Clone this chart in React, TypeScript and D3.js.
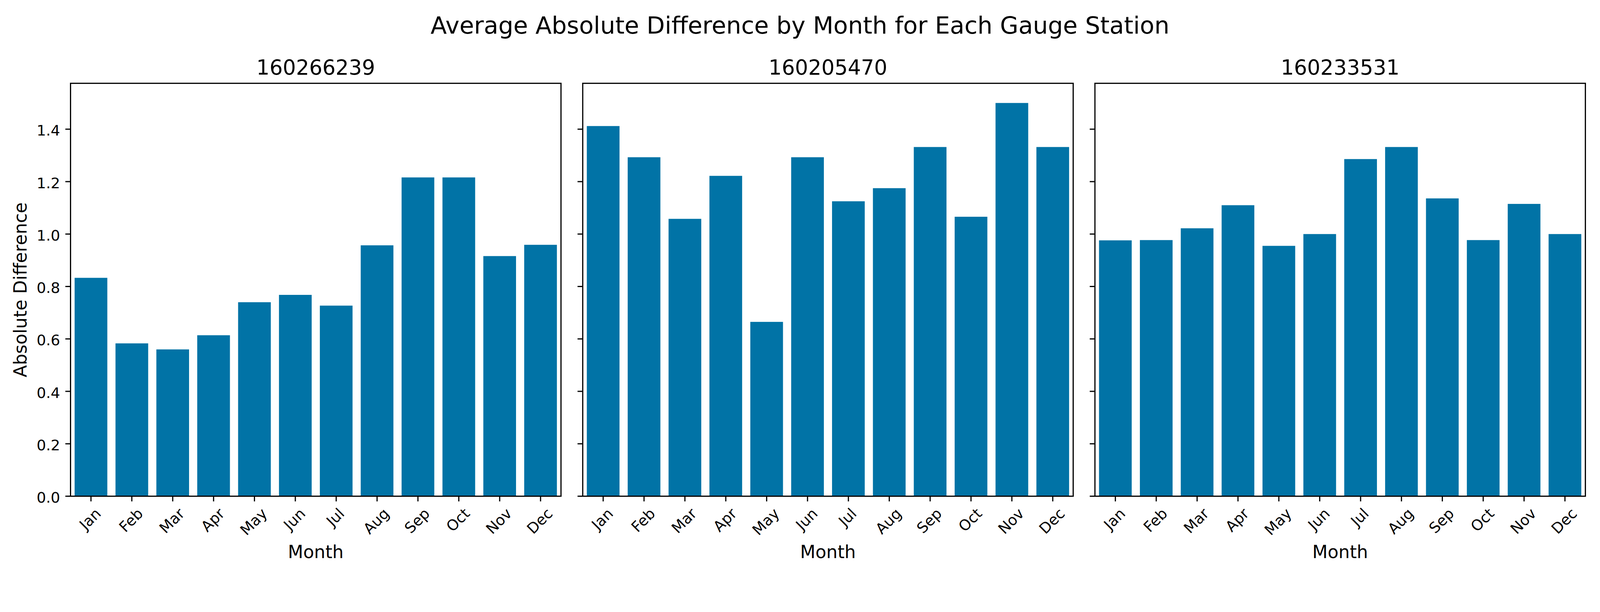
import React, { useMemo } from 'react';
import * as d3 from 'd3';

const MONTHS = ['Jan', 'Feb', 'Mar', 'Apr', 'May', 'Jun', 'Jul', 'Aug', 'Sep', 'Oct', 'Nov', 'Dec'];
const STATIONS = ['160266239', '160205470', '160233531'];
const STATION_A = [0.833, 0.583, 0.560, 0.614, 0.740, 0.768, 0.727, 0.957, 1.216, 1.216, 0.916, 0.959];
const STATION_B = [1.412, 1.293, 1.058, 1.222, 0.665, 1.293, 1.125, 1.175, 1.332, 1.066, 1.500, 1.332];
const STATION_C = [0.976, 0.977, 1.022, 1.110, 0.955, 1.000, 1.286, 1.332, 1.136, 0.977, 1.115, 1.000];
const Y_TICKS = [0, 0.2, 0.4, 0.6, 0.8, 1.0, 1.2, 1.4];
const TITLE = 'Average Absolute Difference by Month for Each Gauge Station';
const X_LABEL = 'Month';
const Y_LABEL = 'Absolute Difference';

const W = 4378;
const H = 1567;
const PT = 292 / 72;
const FONT = '"DejaVu Sans", "Liberation Sans", sans-serif';
const BAR_COLOR = '#0173a6';

export default function App() {
  const series = [STATION_A, STATION_B, STATION_C];
  const tickFs = 10 * PT;
  const labelFs = 12 * PT;
  const titleFs = 14 * PT;
  const supFs = 16 * PT;
  const tickLen = 3.5 * PT;
  const tickPad = 3.5 * PT;
  const lw = 0.8 * PT;

  const axLefts = [193, 1594.5, 2996];
  const axW = 1342;
  const axTop = 228;
  const axBottom = 1358;

  const measure = useMemo(() => {
    const c = document.createElement('canvas').getContext('2d');
    return (s: string, fs: number) => {
      if (!c) return s.length * fs * 0.6;
      c.font = `${fs}px "DejaVu Sans"`;
      return c.measureText(s).width;
    };
  }, []);

  const maxV = d3.max(series.flat()) as number;
  const y = d3.scaleLinear().domain([0, maxV * 1.05]).range([axBottom, axTop]);

  const labelTop = axBottom + tickLen + tickPad;
  const boxH = 0.983 * tickFs;

  return (
    <svg
      viewBox={`0 0 ${W} ${H}`}
      preserveAspectRatio="xMinYMin meet"
      style={{ position: 'fixed', left: 0, top: 0, width: '100vw', height: '100vh', background: '#fff', display: 'block' }}
      fontFamily={FONT}
    >
      <rect x={0} y={0} width={W} height={H} fill="#fff" />
      <text x={W / 2} y={92} fontSize={supFs} textAnchor="middle" fill="#000">
        {TITLE}
      </text>
      {series.map((vals, si) => {
        const left = axLefts[si];
        const x = d3
          .scaleBand<string>()
          .domain(MONTHS)
          .range([left, left + axW])
          .paddingInner(0.2)
          .paddingOuter(0.1);
        return (
          <g key={si}>
            {vals.map((v, i) => (
              <rect
                key={i}
                x={x(MONTHS[i])}
                y={y(v)}
                width={x.bandwidth()}
                height={y(0) - y(v)}
                fill={BAR_COLOR}
              />
            ))}
            <rect
              x={left}
              y={axTop}
              width={axW}
              height={axBottom - axTop}
              fill="none"
              stroke="#000"
              strokeWidth={lw}
            />
            {Y_TICKS.map((t) => (
              <g key={t}>
                <line
                  x1={left - tickLen}
                  x2={left}
                  y1={y(t)}
                  y2={y(t)}
                  stroke="#000"
                  strokeWidth={lw}
                />
                {si === 0 && (
                  <text
                    x={left - tickLen - tickPad}
                    y={y(t) + 0.44 * tickFs}
                    fontSize={tickFs}
                    textAnchor="end"
                    fill="#000"
                  >
                    {t.toFixed(1)}
                  </text>
                )}
              </g>
            ))}
            {MONTHS.map((m) => {
              const cx = (x(m) as number) + x.bandwidth() / 2;
              const w = measure(m, tickFs);
              const cy = labelTop + ((w + boxH) * Math.SQRT1_2) / 2;
              return (
                <g key={m}>
                  <line
                    x1={cx}
                    x2={cx}
                    y1={axBottom}
                    y2={axBottom + tickLen}
                    stroke="#000"
                    strokeWidth={lw}
                  />
                  <text
                    transform={`translate(${cx},${cy}) rotate(-45)`}
                    x={0}
                    y={0.2685 * tickFs}
                    fontSize={tickFs}
                    textAnchor="middle"
                    fill="#000"
                  >
                    {m}
                  </text>
                </g>
              );
            })}
            <text
              x={left + axW / 2}
              y={axTop - 6 * PT}
              fontSize={titleFs}
              textAnchor="middle"
              fill="#000"
            >
              {STATIONS[si]}
            </text>
            <text
              x={left + axW / 2}
              y={1527}
              fontSize={labelFs}
              textAnchor="middle"
              fill="#000"
            >
              {X_LABEL}
            </text>
          </g>
        );
      })}
      <text
        transform={`translate(73,${(axTop + axBottom) / 2}) rotate(-90)`}
        fontSize={labelFs}
        textAnchor="middle"
        fill="#000"
      >
        {Y_LABEL}
      </text>
    </svg>
  );
}
